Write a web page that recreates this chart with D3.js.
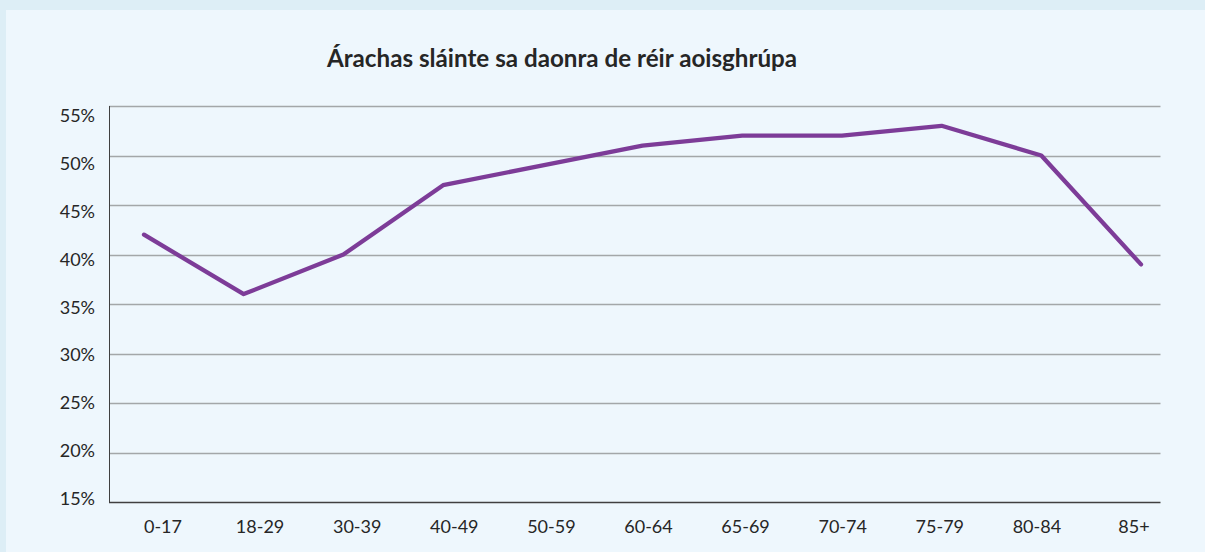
<!DOCTYPE html>
<html>
  <head>
    <meta charset="utf-8">
    <title>Árachas sláinte sa daonra de réir aoisghrúpa</title>
    <script src="https://d3js.org/d3.v7.min.js"></script>
    <style>
      body { margin: 0; background: #ddeef6; }
      text { font-family: Lato, "Open Sans", sans-serif; fill: #262626; }
    </style>
  </head>
  <body>
    <script>
      // Data
      const categories = ["0-17", "18-29", "30-39", "40-49", "50-59", "60-64", "65-69", "70-74", "75-79", "80-84", "85+"];
      const values = [42, 36, 40, 47, 49, 51, 52, 52, 53, 50, 39];
      const yTicks = [15, 20, 25, 30, 35, 40, 45, 50, 55];

      const width = 1205;
      const height = 552;

      const svg = d3.select("body")
        .append("svg")
        .attr("width", width)
        .attr("height", height);

      // panel
      svg.append("rect")
        .attr("x", 6)
        .attr("y", 10)
        .attr("width", width - 6)
        .attr("height", height - 10)
        .attr("fill", "#eef7fd");

      const plot = { left: 109, right: 1160.5, top: 106, bottom: 502 };

      const x = d3.scalePoint()
        .domain(categories)
        .range([144, 1141]);

      // category labels sit on a slightly different spacing in the original
      const xLabel = d3.scalePoint()
        .domain(categories)
        .range([163, 1134]);

      const y = d3.scaleLinear()
        .domain([15, 55])
        .range([plot.bottom, plot.top]);

      const yLabel = d3.scaleLinear()
        .domain([15, 55])
        .range([505, 122.3]);

      // Title
      svg.append("text")
        .attr("x", 562)
        .attr("y", 67)
        .attr("text-anchor", "middle")
        .attr("font-weight", "bold")
        .attr("font-size", 24.2)
        .text("Árachas sláinte sa daonra de réir aoisghrúpa");

      // gridlines
      svg.append("g")
        .selectAll("line")
        .data(yTicks.filter(d => d > 15))
        .enter()
        .append("line")
        .attr("x1", plot.left)
        .attr("x2", plot.right)
        .attr("y1", d => Math.round(y(d)) + 0.5)
        .attr("y2", d => Math.round(y(d)) + 0.5)
        .attr("stroke", "#a3a7a9")
        .attr("stroke-width", 1.3);

      // axes lines
      svg.append("line")
        .attr("x1", plot.left + 0.5).attr("x2", plot.left + 0.5)
        .attr("y1", plot.top).attr("y2", plot.bottom + 0.5)
        .attr("stroke", "#404040")
        .attr("stroke-width", 1);
      svg.append("line")
        .attr("x1", plot.left).attr("x2", plot.right)
        .attr("y1", plot.bottom + 0.5).attr("y2", plot.bottom + 0.5)
        .attr("stroke", "#404040")
        .attr("stroke-width", 1.3);

      // y labels
      svg.append("g")
        .selectAll("text")
        .data(yTicks)
        .enter()
        .append("text")
        .attr("x", 95)
        .attr("y", d => yLabel(d))
        .attr("text-anchor", "end")
        .attr("font-size", 18)
        .text(d => d + "%");

      // x labels
      svg.append("g")
        .selectAll("text")
        .data(categories)
        .enter()
        .append("text")
        .attr("x", d => xLabel(d))
        .attr("y", 533)
        .attr("text-anchor", "middle")
        .attr("font-size", 18)
        .text(d => d);

      // line
      const line = d3.line()
        .x((d, i) => x(categories[i]))
        .y(d => y(d));

      svg.append("path")
        .datum(values)
        .attr("d", line)
        .attr("fill", "none")
        .attr("stroke", "#7d3c98")
        .attr("stroke-width", 4.3)
        .attr("stroke-linejoin", "round")
        .attr("stroke-linecap", "round");
    </script>
  </body>
</html>
